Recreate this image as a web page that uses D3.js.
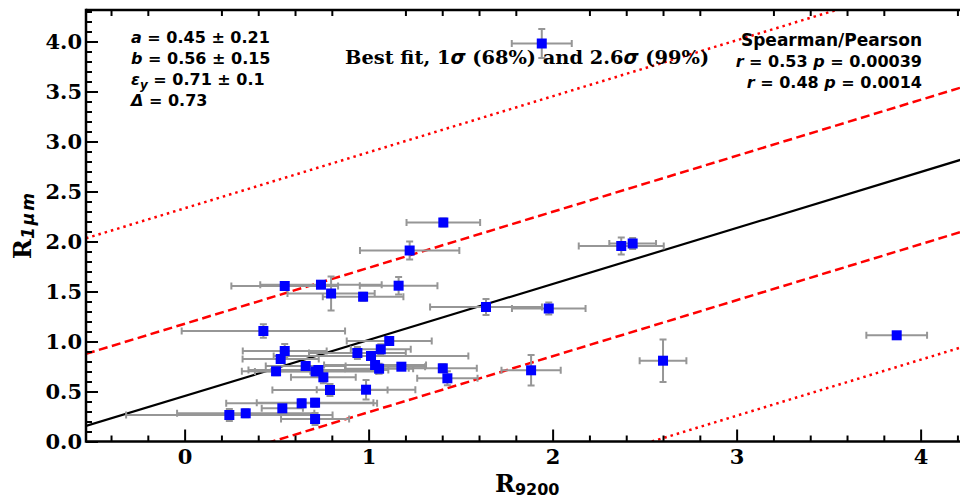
<!DOCTYPE html>
<html><head><meta charset="utf-8">
<script src="https://cdn.jsdelivr.net/npm/d3@7"></script>
<style>body{margin:0;background:#fff}svg{display:block}</style>
</head><body>
<svg id="chart" width="960" height="500"></svg>
<script>
// ---- data ----
const xVals = [1.406,1.223,0.544,0.741,0.796,0.970,1.163,1.638,1.979,0.428,
               1.112,1.066,0.544,0.939,1.013,0.522,1.035,1.057,1.178,1.403,
               1.428,0.658,0.727,0.712,0.754,0.497,0.790,0.986,0.636,0.709,
               0.531,0.243,0.332,0.709,1.941,2.373,2.435,2.600,1.883,3.870];
const yVals = [2.19,1.91,1.555,1.568,1.48,1.448,1.558,1.345,1.33,1.105,
               1.005,0.922,0.905,0.885,0.855,0.825,0.765,0.728,0.748,0.732,
               0.632,0.755,0.715,0.700,0.642,0.702,0.515,0.518,0.382,0.388,
               0.332,0.265,0.282,0.225,3.98,1.955,1.98,0.808,0.712,1.062];
const xErr  = [0.20,0.27,0.29,0.33,0.237,0.219,0.211,0.304,0.20,0.444,
               0.231,0.163,0.228,0.263,0.529,0.207,0.277,0.185,0.129,0.185,
               0.164,0.217,0.38,0.33,0.176,0.186,0.313,0.268,0.41,0.317,
               0.112,0.561,0.373,0.185,0.163,0.231,0.127,0.127,0.161,0.165];
const yErr  = [0.04,0.09,0.04,0.03,0.17,0.04,0.087,0.08,0.06,0.067,
               0.04,0.05,0.07,0.06,0.04,0.04,0.04,0.05,0.03,0.04,
               0.07,0.04,0.04,0.04,0.06,0.04,0.06,0.097,0.04,0.04,
               0.04,0.06,0.04,0.06,0.145,0.085,0.055,0.213,0.153,0.02];
const fitA = 0.455, fitB = 0.56, bandHalf = 0.722, nSigma = 2.6;
const xMajorTicks = [0,1,2,3,4];
const yMajorTicks = [0.0,0.5,1.0,1.5,2.0,2.5,3.0,3.5,4.0];
const yTickLabels = ["0.0","0.5","1.0","1.5","2.0","2.5","3.0","3.5","4.0"];
const leftLines = [["a"," = 0.45 ± 0.21"],["b"," = 0.56 ± 0.15"],["ε"," = 0.71 ± 0.1"],["Δ"," = 0.73"]];
const rightLines = ["Spearman/Pearson", ["r"," = 0.53 ","p"," = 0.00039"], ["r"," = 0.48 ","p"," = 0.0014"]];

// ---- layout ----
const svg = d3.select("#chart");
const L = 86, T = 10, B = 441.5, pxPerX = 184;
const xMin = -0.536, xMax = 4.4;
const yMin = 0, yMax = 4.315;
const x = d3.scaleLinear().domain([xMin, xMax]).range([L, L + pxPerX*(xMax-xMin)]);
const y = d3.scaleLinear().domain([yMin, yMax]).range([B, T]);
const R = x(xMax);

svg.append("clipPath").attr("id","clip").append("rect")
  .attr("x",L).attr("y",T).attr("width",R-L).attr("height",B-T);
const plot = svg.append("g").attr("clip-path","url(#clip)");

// fit lines
const fitLine = (off) => d3.line()([[xMin, fitA+fitB*xMin+off],[xMax, fitA+fitB*xMax+off]].map(d=>[x(d[0]),y(d[1])]));
plot.append("path").attr("d",fitLine(0)).attr("stroke","#000").attr("stroke-width",2.2).attr("fill","none");
[bandHalf,-bandHalf].forEach(o=>plot.append("path").attr("d",fitLine(o)).attr("stroke","#ff0000").attr("stroke-width",2.5).attr("stroke-dasharray","9,4.5").attr("fill","none"));
[nSigma*bandHalf,-nSigma*bandHalf].forEach(o=>plot.append("path").attr("d",fitLine(o)).attr("stroke","#ff0000").attr("stroke-width",2.5).attr("stroke-dasharray","2.5,4").attr("fill","none"));

// error bars
const eg = plot.append("g").attr("stroke","#969696").attr("stroke-width",2).attr("fill","none");
const cap = 3.5;
xVals.forEach((xv,i)=>{
  const yv = yVals[i], xe = xErr[i], ye = yErr[i];
  eg.append("line").attr("x1",x(xv-xe)).attr("x2",x(xv+xe)).attr("y1",y(yv)).attr("y2",y(yv));
  eg.append("line").attr("x1",x(xv)).attr("x2",x(xv)).attr("y1",y(yv-ye)).attr("y2",y(yv+ye));
  [xv-xe,xv+xe].forEach(c=>eg.append("line").attr("x1",x(c)).attr("x2",x(c)).attr("y1",y(yv)-cap).attr("y2",y(yv)+cap));
  [yv-ye,yv+ye].forEach(c=>eg.append("line").attr("x1",x(xv)-cap).attr("x2",x(xv)+cap).attr("y1",y(c)).attr("y2",y(c)));
});
// markers
plot.append("g").selectAll("rect").data(xVals).join("rect")
  .attr("x",(d)=>x(d)-5).attr("y",(d,i)=>y(yVals[i])-5).attr("width",10).attr("height",10)
  .attr("fill","#0000ff");

// axes
const xMinor = d3.range(-0.4, 4.41, 0.2).map(v=>+v.toFixed(2)).filter(v=>Math.abs(v-Math.round(v))>1e-6);
const yMinor = d3.range(0, 4.31, 0.1).map(v=>+v.toFixed(2)).filter(v=>Math.abs(v*2-Math.round(v*2))>1e-6);
const tickFont = "'DejaVu Serif', serif";
const styleAxis = g => { g.select(".domain").remove(); g.selectAll("line").attr("stroke","#000").attr("stroke-width",2); g.selectAll("text").attr("font-family",tickFont).attr("font-weight","bold").attr("font-size",21).attr("fill","#000"); };

svg.append("g").attr("transform",`translate(0,${B})`)
  .call(d3.axisBottom(x).tickValues(xMajorTicks).tickFormat(d3.format("d")).tickSizeInner(-12).tickSizeOuter(0).tickPadding(8)).call(styleAxis);
svg.append("g").attr("transform",`translate(0,${B})`)
  .call(d3.axisBottom(x).tickValues(xMinor).tickFormat("").tickSizeInner(-6).tickSizeOuter(0)).call(styleAxis);
svg.append("g").attr("transform",`translate(0,${T})`)
  .call(d3.axisTop(x).tickValues(xMinor).tickFormat("").tickSizeInner(-6).tickSizeOuter(0)).call(styleAxis);
svg.append("g").attr("transform",`translate(${L},0)`)
  .call(d3.axisLeft(y).tickValues(yMajorTicks).tickFormat((d,i)=>yTickLabels[i]).tickSizeInner(-12).tickSizeOuter(0).tickPadding(4)).call(styleAxis);
svg.append("g").attr("transform",`translate(${L},0)`)
  .call(d3.axisLeft(y).tickValues(yMinor).tickFormat("").tickSizeInner(-6).tickSizeOuter(0)).call(styleAxis);

// spines
const sp = svg.append("g").attr("stroke","#000").attr("stroke-width",2.5);
sp.append("line").attr("x1",L).attr("x2",R).attr("y1",B).attr("y2",B);
sp.append("line").attr("x1",L).attr("x2",R).attr("y1",T).attr("y2",T);
sp.append("line").attr("x1",L).attr("x2",L).attr("y1",T-1.25).attr("y2",B+1.25);
sp.append("line").attr("x1",R).attr("x2",R).attr("y1",T).attr("y2",B);

// axis titles
const xt = svg.append("text").attr("x",495).attr("y",492).attr("font-family",tickFont).attr("font-weight","bold").attr("font-size",24);
xt.append("tspan").text("R");
xt.append("tspan").attr("font-family","'DejaVu Sans', sans-serif").attr("font-size",16).attr("dy",3).text("9200");
const yt = svg.append("text").attr("transform","translate(31,259) rotate(-90)").attr("font-family",tickFont).attr("font-weight","bold").attr("font-size",24);
yt.append("tspan").text("R");
yt.append("tspan").attr("font-family","'DejaVu Sans', sans-serif").attr("font-style","italic").attr("font-size",17).attr("letter-spacing",2).attr("dy",3).text("1μm");

// annotations
const sans = "'DejaVu Sans', sans-serif";
leftLines.forEach((ln,i)=>{
  const t = svg.append("text").attr("x",131).attr("y",43+i*21).attr("font-family",sans).attr("font-weight","bold").attr("font-size",16);
  t.append("tspan").attr("font-style","italic").text(ln[0]);
  if (ln[0]==="ε") { t.append("tspan").attr("font-style","italic").attr("font-size",12).attr("dy",4).text("y"); t.append("tspan").attr("dy",-4).text(ln[1]); }
  else t.append("tspan").text(ln[1]);
});
const bt = svg.append("text").attr("x",345).attr("y",64).attr("font-family",tickFont).attr("font-weight","bold").attr("font-size",19.4);
bt.append("tspan").text("Best fit, 1");
bt.append("tspan").attr("font-family",sans).attr("font-style","italic").text("σ");
bt.append("tspan").text(" (68%) and 2.6");
bt.append("tspan").attr("font-family",sans).attr("font-style","italic").text("σ");
bt.append("tspan").text(" (99%)");
rightLines.forEach((ln,i)=>{
  const t = svg.append("text").attr("x",922).attr("y",46+i*21).attr("text-anchor","end").attr("font-family",sans).attr("font-weight","bold").attr("font-size", i===0 ? 17 : 16);
  if (typeof ln === "string") t.text(ln);
  else ln.forEach((s,j)=>t.append("tspan").attr("font-style", j%2===0 ? "italic" : "normal").text(s));
});
</script>
</body></html>
